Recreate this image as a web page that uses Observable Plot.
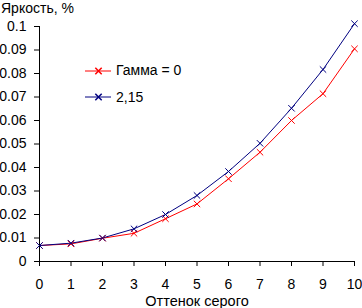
<!DOCTYPE html>
<html>
<head>
<meta charset="utf-8">
<script src="https://cdn.jsdelivr.net/npm/d3@7"></script>
<script src="https://cdn.jsdelivr.net/npm/@observablehq/plot@0.6"></script>
<style>
  html, body { margin: 0; padding: 0; background: #fff; }
  #chart { position: relative; width: 362px; height: 308px; font-family: "Liberation Sans", Arial, sans-serif; color: #000; }
  #chart > svg { position: absolute; left: 0; top: 0; }
  .title { position: absolute; left: 1px; top: 1px; font-size: 14px; line-height: 14px; z-index: 1; }
  .legend { position: absolute; left: 85px; top: 57px; font-size: 14px; z-index: 1; }
  .legend .row { display: flex; align-items: center; height: 26.5px; }
  .legend svg { display: block; margin-right: 5px; }
</style>
</head>
<body>
<div id="chart">
  <div class="title">Яркость, %</div>
</div>
<script>
// Gray level (0..10) and measured brightness for two gamma settings
const grayLevels = [0, 1, 2, 3, 4, 5, 6, 7, 8, 9, 10];
const gamma0 = [0.0068, 0.0075, 0.0099, 0.0120, 0.0182, 0.0245, 0.0352, 0.0465, 0.0600, 0.0714, 0.0905];
const gamma215 = [0.0068, 0.0078, 0.0100, 0.0139, 0.0200, 0.0281, 0.0383, 0.0503, 0.0652, 0.0817, 0.1012];

const seriesNames = ["Гамма = 0", "2,15"];
const seriesColors = ["#ff0000", "#000080"];

const xTicks = [0, 1, 2, 3, 4, 5, 6, 7, 8, 9, 10];
const yTicks = [0, 0.01, 0.02, 0.03, 0.04, 0.05, 0.06, 0.07, 0.08, 0.09, 0.1];
const yTickLabels = ["0", "0.01", "0.02", "0.03", "0.04", "0.05", "0.06", "0.07", "0.08", "0.09", "0.1"];

const rows = [
  ...grayLevels.map((g, i) => ({gray: g, value: gamma0[i], series: seriesNames[0]})),
  ...grayLevels.map((g, i) => ({gray: g, value: gamma215[i], series: seriesNames[1]}))
];

const chart = Plot.plot({
  width: 362,
  height: 308,
  marginLeft: 39,
  marginRight: 8,
  marginTop: 26,
  marginBottom: 47,
  style: {fontFamily: "Liberation Sans, Arial, sans-serif", color: "#000", background: "#fff", overflow: "visible"},
  x: {domain: [0, 10]},
  y: {domain: [0, 0.1]},
  color: {domain: seriesNames, range: seriesColors},
  marks: [
    Plot.frame({anchor: "left", stroke: "#000"}),
    Plot.frame({anchor: "bottom", stroke: "#000"}),
    Plot.axisY({ticks: yTicks, tickFormat: d => yTickLabels[yTicks.indexOf(d)], tickSize: 5, tickPadding: 8, fontSize: 14, label: null, stroke: "#000"}),
    Plot.axisX({ticks: xTicks, tickSize: 5, tickPadding: 13, fontSize: 14, label: "Оттенок серого", labelAnchor: "center", labelArrow: "none", labelOffset: 44, stroke: "#000"}),
    Plot.line(rows, {x: "gray", y: "value", z: "series", stroke: "series", strokeWidth: 1}),
    Plot.dot(rows, {x: "gray", y: "value", stroke: "series", symbol: "times", r: 3, strokeWidth: 1})
  ]
});
chart.querySelectorAll("text").forEach(t => t.setAttribute("fill", "#000"));
chart.querySelectorAll("[aria-label='x-axis label']").forEach(g => g.setAttribute("font-size", 14.5));
document.getElementById("chart").appendChild(chart);

// Legend: short line with a cross marker, followed by the series name
const legend = document.createElement("div");
legend.className = "legend";
seriesNames.forEach((name, i) => {
  const row = document.createElement("div");
  row.className = "row";
  const sw = Plot.plot({
    width: 26, height: 9, margin: 0, axis: null,
    x: {domain: [0, 1]}, y: {domain: [0, 1]},
    marks: [
      Plot.ruleY([0.5], {stroke: seriesColors[i], x1: 0, x2: 1}),
      Plot.dot([[0.5, 0.5]], {stroke: seriesColors[i], symbol: "times", r: 3})
    ]
  });
  row.appendChild(sw);
  const label = document.createElement("span");
  label.textContent = name;
  row.appendChild(label);
  legend.appendChild(row);
});
document.getElementById("chart").appendChild(legend);
</script>
</body>
</html>
